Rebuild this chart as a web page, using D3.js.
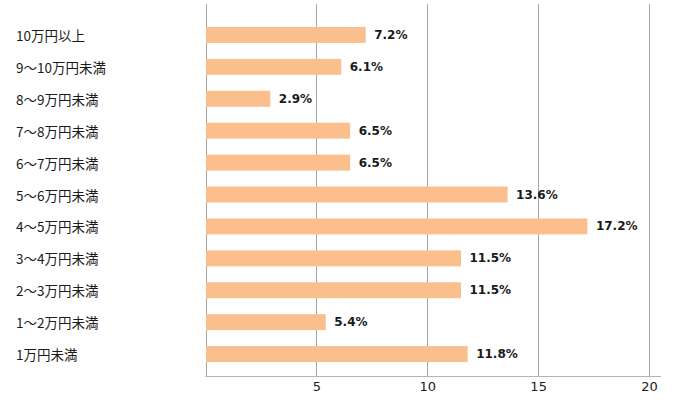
<!DOCTYPE html>
<html>
<head>
<meta charset="utf-8">
<script src="https://cdn.jsdelivr.net/npm/d3@7"></script>
<style>
  html, body { margin: 0; padding: 0; background: #fff; }
  svg { display: block; }
</style>
</head>
<body>
<svg id="chart" width="700" height="400"></svg>
<script>
const categories = ["10万円以上", "9～10万円未満", "8～9万円未満", "7～8万円未満", "6～7万円未満",
  "5～6万円未満", "4～5万円未満", "3～4万円未満", "2～3万円未満", "1～2万円未満", "1万円未満"];
const values = [7.2, 6.1, 2.9, 6.5, 6.5, 13.6, 17.2, 11.5, 11.5, 5.4, 11.8];
const tickValues = [5, 10, 15, 20];
const gridValues = [0, 5, 10, 15, 20];

const svg = d3.select("#chart");
const x = d3.scaleLinear().domain([0, 20]).range([205.5, 649]);
const y = d3.scaleBand().domain(categories).range([11, 378]).paddingInner(0.5).paddingOuter(0.5);

const plotTop = 4, plotBottom = 376;

// gridlines
svg.append("g").selectAll("line").data(gridValues).join("line")
  .attr("x1", d => Math.round(x(d)) + 0.5).attr("x2", d => Math.round(x(d)) + 0.5)
  .attr("y1", plotTop).attr("y2", plotBottom)
  .attr("stroke", "#a6a6a6").attr("stroke-width", 1);

// bottom axis line
svg.append("line")
  .attr("x1", x(0)).attr("x2", 661)
  .attr("y1", plotBottom + 0.5).attr("y2", plotBottom + 0.5)
  .attr("stroke", "#b4b4b4").attr("stroke-width", 1);

// bars
svg.append("g").selectAll("rect").data(values).join("rect")
  .attr("x", x(0) + 0.5)
  .attr("y", (d, i) => y(categories[i]))
  .attr("width", d => x(d) - x(0))
  .attr("height", y.bandwidth())
  .attr("fill", "#fbbf8e");

// value labels
svg.append("g").selectAll("text").data(values).join("text")
  .attr("x", d => x(d) + 9)
  .attr("y", (d, i) => y(categories[i]) + y.bandwidth() / 2)
  .attr("dominant-baseline", "central")
  .attr("font-family", "DejaVu Sans, sans-serif")
  .attr("font-weight", "bold")
  .attr("font-size", 12)
  .attr("fill", "#1a1a1a")
  .text(d => d.toFixed(1) + "%");

// category labels
svg.append("g").selectAll("text").data(categories).join("text")
  .attr("x", 16)
  .attr("y", d => y(d) + y.bandwidth() / 2)
  .attr("dominant-baseline", "central")
  .attr("font-family", "Noto Sans CJK JP, sans-serif")
  .attr("font-size", 13.5)
  .attr("fill", "#1a1a1a")
  .text(d => d);

// x axis tick labels
const axis = d3.axisBottom(x).tickValues(tickValues).tickSize(0).tickPadding(6);
const gx = svg.append("g").attr("transform", `translate(0,${plotBottom})`).call(axis);
gx.select(".domain").remove();
gx.selectAll("text")
  .attr("font-family", "DejaVu Sans, sans-serif")
  .attr("font-size", 13)
  .attr("fill", "#1a1a1a");
</script>
</body>
</html>
